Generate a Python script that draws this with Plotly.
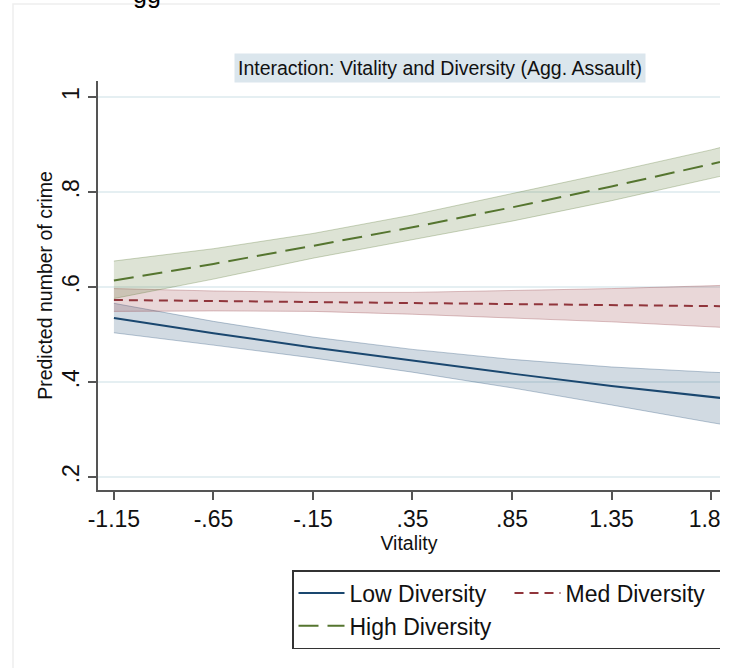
import plotly.graph_objects as go

# ---------------- data ----------------
vitality = [-1.15, -0.65, -0.15, 0.35, 0.85, 1.35, 1.85, 2.35]

low_fit = [0.535, 0.503, 0.473, 0.445, 0.418, 0.392, 0.368, 0.346]
low_hi = [0.566, 0.528, 0.495, 0.469, 0.448, 0.432, 0.421, 0.412]
low_lo = [0.504, 0.478, 0.451, 0.421, 0.388, 0.352, 0.315, 0.280]

med_fit = [0.573, 0.571, 0.569, 0.566, 0.564, 0.562, 0.560, 0.558]
med_hi = [0.597, 0.592, 0.589, 0.589, 0.593, 0.597, 0.603, 0.610]
med_lo = [0.549, 0.550, 0.549, 0.543, 0.535, 0.527, 0.517, 0.506]

high_fit = [0.614, 0.649, 0.687, 0.726, 0.768, 0.812, 0.859, 0.909]
high_hi = [0.655, 0.681, 0.713, 0.752, 0.797, 0.842, 0.889, 0.942]
high_lo = [0.576, 0.617, 0.661, 0.700, 0.739, 0.782, 0.829, 0.876]

x_ticks = [-1.15, -0.65, -0.15, 0.35, 0.85, 1.35, 1.85]
x_ticktext = ["-1.15", "-.65", "-.15", ".35", ".85", "1.35", "1.85"]
y_ticks = [0.2, 0.4, 0.6, 0.8, 1.0]
y_ticktext = [".2", ".4", ".6", ".8", "1"]

names = ["Low Diversity", "Med Diversity", "High Diversity"]
colors = [(26, 71, 111), (144, 53, 59), (85, 117, 47)]
dashes = ["solid", "9px,6px", "20px,9px"]

FONT = "Liberation Sans, Arial, sans-serif"

W, H = 720, 668
L, R, T, B = 98, 0, 81, 178


def px_x(px):
    return (px - L) / (W - L - R)


def px_y(py):
    return (H - B - py) / (H - T - B)


fig = go.Figure()

series = [
    (low_fit, low_hi, low_lo),
    (med_fit, med_hi, med_lo),
    (high_fit, high_hi, high_lo),
]

for (fit, hi, lo), c in zip(series, colors):
    fig.add_trace(go.Scatter(
        x=vitality + vitality[::-1],
        y=hi + lo[::-1],
        fill="toself",
        fillcolor="rgba(%d,%d,%d,0.2)" % c,
        line=dict(color="rgba(%d,%d,%d,0.3)" % c, width=1),
        mode="lines",
        showlegend=False,
        hoverinfo="skip",
    ))

for (fit, hi, lo), c, n, d in zip(series, colors, names, dashes):
    fig.add_trace(go.Scatter(
        x=vitality, y=fit, mode="lines", name=n,
        line=dict(color="rgb(%d,%d,%d)" % c, width=2, dash=d),
    ))

fig.update_layout(
    width=W, height=H, autosize=False,
    margin=dict(l=L, r=R, t=T, b=B, autoexpand=False),
    paper_bgcolor="white", plot_bgcolor="white",
    font=dict(family=FONT, color="#111111"),
    showlegend=True,
    legend=dict(
        orientation="h",
        x=px_x(292), y=px_y(570), xanchor="left", yanchor="top",
        bordercolor="#333333", borderwidth=1.5,
        font=dict(size=23, family=FONT, color="#111111"),
        itemwidth=46, entrywidth=155, traceorder="normal",
    ),
)

fig.update_xaxes(
    range=[-1.230, 1.895], tickvals=x_ticks, ticktext=x_ticktext,
    ticks="outside", ticklen=8, tickcolor="#555555", tickwidth=1.5,
    showline=True, linecolor="#555555", linewidth=1.5,
    showgrid=False, zeroline=False, ticklabeloverflow="allow",
    tickfont=dict(size=23, family=FONT, color="#111111"),
    title=dict(text="Vitality", font=dict(size=19.5, family=FONT, color="#111111"), standoff=4),
)
fig.update_yaxes(
    range=[0.173, 1.034], tickvals=y_ticks, ticktext=y_ticktext,
    ticks="outside", ticklen=8, tickcolor="#555555", tickwidth=1.5,
    showline=True, linecolor="#555555", linewidth=1.5,
    showgrid=True, gridcolor="#e5eff2", gridwidth=1.5, zeroline=False,
    tickangle=-90,
    tickfont=dict(size=23, family=FONT, color="#111111"),
    title=dict(text="Predicted number of crime", font=dict(size=19.5, family=FONT, color="#111111"), standoff=0),
)

# title box
fig.add_annotation(
    xref="paper", yref="paper", x=px_x(440), y=px_y(68),
    xanchor="center", yanchor="middle", showarrow=False,
    text="Interaction: Vitality and Diversity (Agg. Assault)",
    font=dict(size=19.5, family=FONT, color="#111111"),
    bgcolor="#dbe6ed", borderpad=3,
)

# remnant of document text above (cropped in the reference)
fig.add_annotation(
    xref="paper", yref="paper", x=px_x(147), y=px_y(10),
    xanchor="center", yanchor="bottom", showarrow=False,
    text="gg", font=dict(size=25, family=FONT, color="#000000"),
)

# faint outer graph-region border
fig.add_shape(type="rect", xref="paper", yref="paper",
              x0=px_x(13), x1=px_x(760), y0=px_y(4), y1=px_y(700),
              line=dict(color="#eeeeee", width=1.5), layer="below")

fig.write_html("out.html", config={"displayModeBar": False},
               post_script="document.body.style.margin='0';")
